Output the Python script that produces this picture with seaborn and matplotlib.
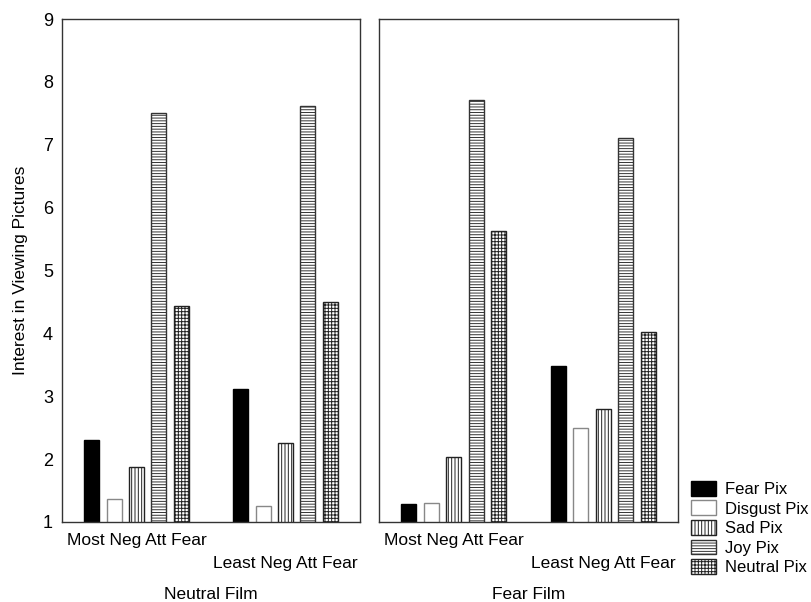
import matplotlib
matplotlib.use("Agg")
import matplotlib.pyplot as plt
from matplotlib.patches import Patch
import seaborn as sns
import pandas as pd

films = ["Neutral Film", "Fear Film"]
attitudes = ["Most Neg Att Fear", "Least Neg Att Fear"]
pictures = ["Fear Pix", "Disgust Pix", "Sad Pix", "Joy Pix", "Neutral Pix"]

# values per film / attitude, listed over pictures
neutral_most = [2.31, 1.36, 1.87, 7.50, 4.44]
neutral_least = [3.12, 1.25, 2.26, 7.62, 4.50]
fear_most = [1.28, 1.31, 2.03, 7.71, 5.63]
fear_least = [3.48, 2.49, 2.80, 7.10, 4.02]

yticks = [1, 2, 3, 4, 5, 6, 7, 8, 9]

rows = []
for film, series in zip(films, [(neutral_most, neutral_least), (fear_most, fear_least)]):
    for att, vals in zip(attitudes, series):
        for pic, v in zip(pictures, vals):
            rows.append({"film": film, "attitude": att, "picture": pic, "value": v})
df = pd.DataFrame(rows)

faces = ["black", "white", "white", "white", "white"]
edges = ["black", "#888888", "#222222", "#333333", "#222222"]
hatches = ["", "", "|||||", "------", "+++++"]

sns.set_style("white")
plt.rcParams["font.family"] = ["Liberation Sans", "DejaVu Sans"]
plt.rcParams["hatch.linewidth"] = 0.7
plt.rcParams["text.color"] = "black"
plt.rcParams["axes.labelcolor"] = "black"
plt.rcParams["xtick.color"] = "black"
plt.rcParams["ytick.color"] = "black"

fig = plt.figure(figsize=(8.11, 6.02), dpi=100)
W, H = 811, 602
ax1 = fig.add_axes([62 / W, 1 - 522 / H, 298 / W, 503 / H])
ax2 = fig.add_axes([379 / W, 1 - 522 / H, 299 / W, 503 / H])

palette = dict(zip(pictures, faces))
fs = 12.5
for ax, film in zip([ax1, ax2], films):
    sub = df[df["film"] == film]
    sns.barplot(data=sub, x="attitude", y="value", hue="picture",
                order=attitudes, hue_order=pictures, palette=palette,
                width=0.75, gap=0.33, saturation=1, errorbar=None,
                legend=False, ax=ax)
    for i, cont in enumerate(ax.containers):
        for p in cont.patches:
            p.set_facecolor(faces[i])
            p.set_edgecolor(edges[i])
            p.set_hatch(hatches[i])
            p.set_linewidth(1.0)
    ax.set_ylim(1, 9)
    ax.set_xlim(-0.5, 1.5)
    ax.set_yticks(yticks)
    ax.set_xticks([0, 1])
    ax.set_xticklabels([attitudes[0], "\n" + attitudes[1]], fontsize=fs,
                       linespacing=1.65)
    ax.tick_params(axis="both", length=0)
    ax.tick_params(axis="x", pad=7.8, labelsize=fs)
    ax.tick_params(axis="y", pad=6.5, labelsize=13)
    ax.set_xlabel(film, fontsize=fs, labelpad=12)
    for s in ax.spines.values():
        s.set_visible(True)
        s.set_color("#333333")
        s.set_linewidth(1.0)

ax1.set_ylabel("Interest in Viewing Pictures", fontsize=fs, labelpad=11)
ax2.set_ylabel("")
ax2.set_yticklabels([])

handles = [Patch(facecolor=faces[i], edgecolor=edges[i], hatch=hatches[i], linewidth=1.0)
           for i in range(len(pictures))]
fig.legend(handles, pictures, loc="upper left", bbox_to_anchor=(691 / W, 1 - 481 / H),
           frameon=False, fontsize=12, handlelength=1.5, handleheight=1.0,
           handletextpad=0.55, labelspacing=0.2, borderpad=0, borderaxespad=0)

fig.savefig("out.png", dpi=100)
